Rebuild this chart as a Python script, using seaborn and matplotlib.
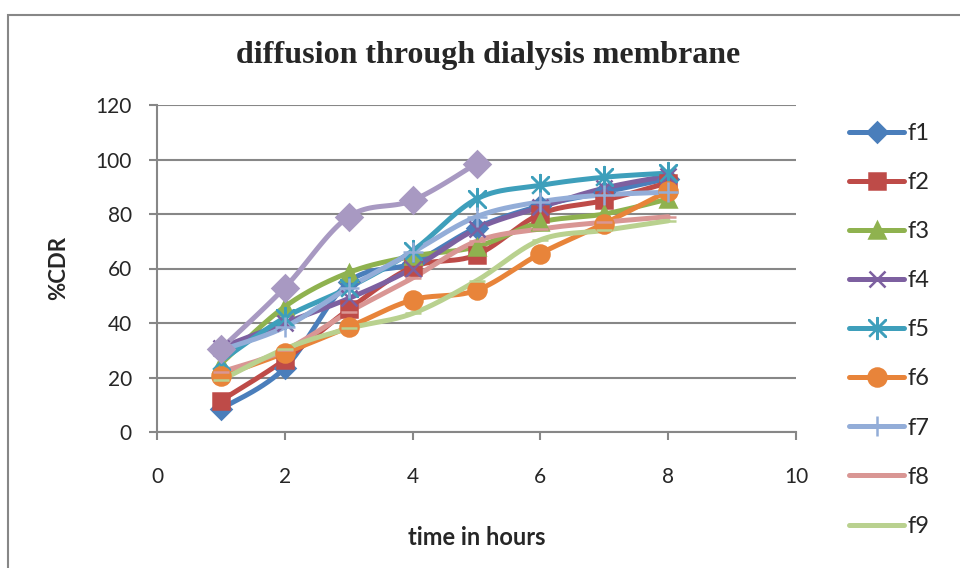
import numpy as np
import pandas as pd
import seaborn as sns
import matplotlib
matplotlib.use("Agg")
import matplotlib.pyplot as plt
from matplotlib.lines import Line2D
from matplotlib.patches import Rectangle

# time (hours) and %CDR
hours = [1, 2, 3, 4, 5, 6, 7, 8]
f1 = [8.5, 23.5, 55, 62, 75, 83, 88, 93]
f2 = [11.5, 26.5, 45, 60.5, 65, 80, 85, 91.5]
f3 = [25, 46, 58.5, 64.5, 68, 77, 80, 85.5]
f4 = [31, 40, 49, 60, 74.5, 82.5, 89.5, 94]
f5 = [26, 42, 53, 66.5, 85.5, 90.5, 93.5, 95]
f6 = [20.5, 29, 38.5, 48.5, 52, 65.5, 76.5, 88.5]
f7 = [30, 38.5, 53, 66, 79, 84.5, 87, 88]
f8 = [22, 30, 44, 56.5, 70, 74.5, 77, 79]
f9 = [19, 30.5, 38, 43.5, 55.5, 70.5, 74, 77.5]
f10 = [30.5, 53, 79, 85, 98.5]

series = {"f1": f1, "f2": f2, "f3": f3, "f4": f4, "f5": f5,
          "f6": f6, "f7": f7, "f8": f8, "f9": f9, "f10": f10}

colors = {"f1": "#4A7EBB", "f2": "#BE4B48", "f3": "#8FB24F", "f4": "#7D60A0",
          "f5": "#3E9FBB", "f6": "#E8843A", "f7": "#93ADD8", "f8": "#D99694",
          "f9": "#B9D18F", "f10": "#A899C2"}

# excel-style star marker: x plus a vertical bar
star = [(-1, -1), (1, 1), (0, 0), (-1, 1), (1, -1), (0, 0), (0, 1.25), (0, -1.25), (0, 0)]
markers = {"f1": ("D", 10), "f2": ("s", 12), "f3": ("^", 12), "f4": ("x", 12),
           "f5": (star, 15), "f6": ("o", 13), "f7": ("+", 15), "f8": ("_", 12),
           "f9": ("_", 12), "f10": ("D", 13)}


def smooth(x, y, n=30):
    # bezier smoothing similar to spreadsheet "smoothed line"
    x = np.asarray(x, float)
    y = np.asarray(y, float)
    px = np.r_[x[0], x, x[-1]]
    py = np.r_[y[0], y, y[-1]]
    xs, ys = [], []
    t = np.linspace(0, 1, n)
    for i in range(1, len(x)):
        p0 = np.array([px[i], py[i]])
        p3 = np.array([px[i + 1], py[i + 1]])
        c1 = p0 + (p3 - np.array([px[i - 1], py[i - 1]])) / 6
        c2 = p3 - (np.array([px[i + 2], py[i + 2]]) - p0) / 6
        b = ((1 - t) ** 3)[:, None] * p0 + (3 * (1 - t) ** 2 * t)[:, None] * c1 \
            + (3 * (1 - t) * t ** 2)[:, None] * c2 + (t ** 3)[:, None] * p3
        xs.extend(b[:, 0])
        ys.extend(b[:, 1])
    return xs, ys


rows = []
for name, vals in series.items():
    sx, sy = smooth(hours[:len(vals)], vals)
    rows += [(name, a, b) for a, b in zip(sx, sy)]
curves = pd.DataFrame(rows, columns=["series", "hours", "cdr"])

sns.set_style("white")
plt.rcParams["font.family"] = ["Lato", "DejaVu Sans"]

fig = plt.figure(figsize=(9.6, 5.68), dpi=100)
ax = fig.add_axes([157 / 960, 1 - 432 / 568, 639 / 960, 327 / 568])

grid_c = "#878787"
sns.lineplot(data=curves, x="hours", y="cdr", hue="series", palette=colors,
             sort=False, estimator=None, linewidth=3.6, legend=False, ax=ax)
for name, vals in series.items():
    m, ms = markers[name]
    ax.plot(hours[:len(vals)], vals, linestyle="none", marker=m, markersize=ms,
            color=colors[name], markeredgecolor=colors[name], markeredgewidth=1.8)

ax.set_xlim(0, 10)
ax.set_ylim(0, 120)
ax.set_xticks(range(0, 11, 2))
ax.set_yticks(range(0, 121, 20))
ax.yaxis.grid(True, color=grid_c, linewidth=1.5)
ax.set_axisbelow(True)
for s in ["top", "right"]:
    ax.spines[s].set_visible(False)
for s in ["left", "bottom"]:
    ax.spines[s].set_color(grid_c)
    ax.spines[s].set_linewidth(1.5)
ax.tick_params(axis="both", which="major", length=6, width=1.5, color=grid_c,
               direction="out", labelsize=15, bottom=True, left=True)
ax.tick_params(axis="x", pad=19)
ax.tick_params(axis="y", pad=12)

ax.set_xlabel("time in hours", fontsize=17, fontweight="bold", labelpad=28)
ax.set_ylabel("%CDR", fontsize=16, fontweight="bold", labelpad=19)

fig.text(0.508, 1 - 56 / 568, "diffusion through dialysis membrane",
         ha="center", va="center", fontsize=23, fontweight="bold",
         family="Liberation Serif")

handles = []
for name in list(series)[:9]:
    m, ms = markers[name]
    if name in ("f8", "f9"):
        m = None
    handles.append(Line2D([], [], color=colors[name], linewidth=3.6, marker=m,
                          markersize=ms, markeredgecolor=colors[name],
                          markeredgewidth=1.8))
fig.legend(handles, list(series)[:9], loc="upper left",
           bbox_to_anchor=(849 / 960, 1 - 123 / 568), frameon=False,
           fontsize=17, handlelength=2.33, handletextpad=0.13, labelspacing=1.19,
           borderaxespad=0, borderpad=0)

fig.patches.append(Rectangle((8 / 960, -0.1), 1.1, 1.1 - 15 / 568,
                             transform=fig.transFigure, fill=False,
                             edgecolor=grid_c, linewidth=1.5))

fig.savefig("out.png", dpi=100)
